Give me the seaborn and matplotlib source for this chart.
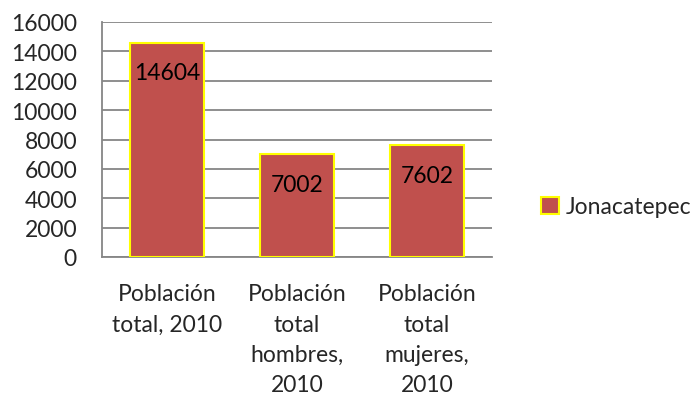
import matplotlib
matplotlib.use("Agg")
import matplotlib.pyplot as plt
import seaborn as sns
import pandas as pd
from matplotlib.patches import Patch

categories = ["Población\ntotal, 2010", "Población\ntotal\nhombres,\n2010", "Población\ntotal\nmujeres,\n2010"]
values = [14604, 7002, 7602]
series_name = "Jonacatepec"
yticks = [0, 2000, 4000, 6000, 8000, 10000, 12000, 14000, 16000]

sns.set_theme(style="white")
plt.rcParams['font.family'] = ['Lato', 'DejaVu Sans']
FS = 16.5

df = pd.DataFrame({"cat": categories, "val": values})

fig = plt.figure(figsize=(6.91, 4.02), dpi=100)
ax = fig.add_axes([102/691, 1 - 258/402, (492-102)/691, (258-23)/402])

bar_color = "#C0504D"
sns.barplot(data=df, x="cat", y="val", color=bar_color, width=0.57,
            edgecolor="#FFFF00", linewidth=1.5, saturation=1, ax=ax, zorder=3)

ax.set_ylim(0, 16000)
ax.set_xlim(-0.5, 2.5)
ax.set_yticks(yticks)
ax.set_yticklabels([str(t) for t in yticks], fontsize=FS)
ax.yaxis.grid(True, color="#868686", linewidth=1.3, zorder=0)
ax.set_axisbelow(True)
ax.tick_params(axis="x", labelsize=FS, length=0, pad=19)
ax.tick_params(axis="y", length=0, pad=18)
for lab in ax.get_xticklabels():
    lab.set_linespacing(1.55)
ax.set_xlabel("")
ax.set_ylabel("")
for s in ["top", "right"]:
    ax.spines[s].set_visible(False)
ax.spines["left"].set_color("#868686")
ax.spines["left"].set_linewidth(1.3)
ax.spines["bottom"].set_color("#868686")
ax.spines["bottom"].set_linewidth(1.3)

for i, v in enumerate(values):
    ax.annotate(str(v), xy=(i, v), xytext=(0, -30), textcoords="offset pixels",
                ha="center", va="center", fontsize=FS, color="black", zorder=5)

handle = Patch(facecolor=bar_color, edgecolor="#FFFF00", linewidth=1.5)
fig.legend([handle], [series_name], loc="center left",
           bbox_to_anchor=(530/691, 1 - 208/402), frameon=False,
           fontsize=FS, handlelength=0.75, handleheight=0.75, handletextpad=0.3,
           borderpad=0)

fig.savefig("out.png", dpi=100)
